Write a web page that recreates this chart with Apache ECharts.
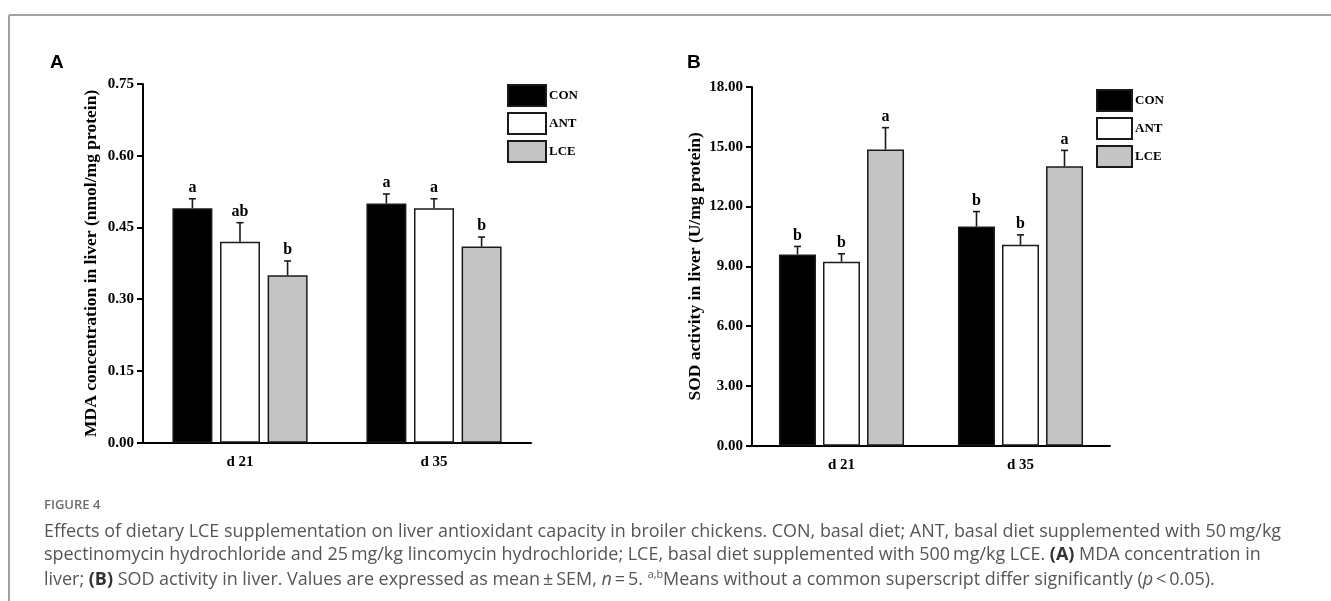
<!DOCTYPE html>
<html><head><meta charset="utf-8">
<script src="https://cdn.jsdelivr.net/npm/echarts@6/dist/echarts.min.js"></script>
<style>html,body{margin:0;padding:0;background:#fff}#c{width:1331px;height:601px}</style>
</head><body><div id="c"></div>
<script>
// ---- data ----
const categories = ['d 21', 'd 35'];
const groups = ['CON', 'ANT', 'LCE'];
const mdaTicks = [0, 0.15, 0.30, 0.45, 0.60, 0.75];
const sodTicks = [0, 3, 6, 9, 12, 15, 18];

const mdaCON = [0.49, 0.50];
const mdaANT = [0.42, 0.49];
const mdaLCE = [0.35, 0.41];
const mdaCONsem = [0.02, 0.02];
const mdaANTsem = [0.04, 0.02];
const mdaLCEsem = [0.03, 0.02];
const mdaCONletters = ['a', 'a'];
const mdaANTletters = ['ab', 'a'];
const mdaLCEletters = ['b', 'b'];

const sodCON = [9.60, 11.00];
const sodANT = [9.23, 10.08];
const sodLCE = [14.86, 14.02];
const sodCONsem = [0.40, 0.75];
const sodANTsem = [0.40, 0.50];
const sodLCEsem = [1.10, 0.80];
const sodCONletters = ['b', 'b'];
const sodANTletters = ['b', 'b'];
const sodLCEletters = ['a', 'a'];

const captionHead = 'FIGURE 4';
const captionLine1 = 'Effects of dietary LCE supplementation on liver antioxidant capacity in broiler chickens. CON, basal diet; ANT, basal diet supplemented with 50\u2009mg/kg';
const captionLine2 = ['spectinomycin hydrochloride and 25\u2009mg/kg lincomycin hydrochloride; LCE, basal diet supplemented with 500\u2009mg/kg LCE. ', '(A)', ' MDA concentration in'];
const captionLine3 = ['liver; ', '(B)', ' SOD activity in liver. Values are expressed as mean\u2009\u00b1\u2009SEM, ', 'n', '\u2009=\u20095. ', 'a,b', 'Means without a common superscript differ significantly (', 'p', '\u2009<\u20090.05).'];

// ---- styles ----
const SERIF = '"Liberation Serif", "DejaVu Serif", serif';
const SANS = '"Open Sans", "Noto Sans", sans-serif';
const fills = {CON: '#000000', ANT: '#ffffff', LCE: '#c4c4c4'};
const edge = '#1a1a1a';
const capColor = '#555555';

const chart = echarts.init(document.getElementById('c'), null, {renderer: 'canvas'});

function errRender(idx, barW, gap, letters) {
  return function (params, api) {
    const cat = api.value(0), mean = api.value(1), sem = api.value(2);
    const p0 = api.coord([cat, mean]);
    const p1 = api.coord([cat, mean + sem]);
    const x = p0[0] + (idx - 1) * (barW + gap);
    const st = {stroke: edge, lineWidth: 1.6};
    return {type: 'group', children: [
      {type: 'line', shape: {x1: x, y1: p0[1], x2: x, y2: p1[1]}, style: st},
      {type: 'line', shape: {x1: x - 3.5, y1: p1[1], x2: x + 3.5, y2: p1[1]}, style: st},
      {type: 'text', x: x, y: p1[1] - 3, style: {text: letters[params.dataIndex], fill: '#000',
        font: 'bold 16px ' + SERIF, align: 'center', verticalAlign: 'bottom'}}
    ]};
  };
}

function barSeries(name, values, xi, barW) {
  return {type: 'bar', name: name, xAxisIndex: xi, yAxisIndex: xi, data: values,
    barWidth: barW, barGap: '19%',
    itemStyle: {color: fills[name], borderColor: edge, borderWidth: 1.5}, z: 2};
}
function errSeries(idx, values, sems, letters, xi, barW, gap) {
  return {type: 'custom', name: 'err' + xi + idx, xAxisIndex: xi, yAxisIndex: xi,
    data: values.map((v, i) => [i, v, sems[i]]),
    renderItem: errRender(idx, barW, gap, letters), z: 3, silent: true};
}

function yAxis(gi, ticks, dec, title, gap) {
  return {type: 'value', gridIndex: gi, min: ticks[0], max: ticks[ticks.length - 1],
    interval: ticks[1] - ticks[0], splitLine: {show: false},
    axisLine: {show: true, lineStyle: {color: '#000', width: 2}},
    axisTick: {show: true, length: 6, lineStyle: {color: '#000', width: 2}},
    axisLabel: {formatter: v => v.toFixed(dec), color: '#000', fontFamily: SERIF, fontWeight: 'bold', fontSize: 15, margin: 9},
    name: title, nameLocation: 'middle', nameGap: gap, nameMoveOverlap: false,
    nameTextStyle: {color: '#000', fontFamily: SERIF, fontWeight: 'bold', fontSize: 17.5}};
}
function xAxis(gi) {
  return {type: 'category', gridIndex: gi, data: categories,
    axisLine: {lineStyle: {color: '#000', width: 2}},
    axisTick: {alignWithLabel: true, length: 6, lineStyle: {color: '#000', width: 2}},
    axisLabel: {color: '#000', fontFamily: SERIF, fontWeight: 'bold', fontSize: 15, margin: 12}};
}
function legend(left, top, w) {
  return {data: groups, orient: 'vertical', left: left, top: top, itemWidth: w, itemHeight: 21, itemGap: 5,
    icon: 'rect', selectedMode: false, padding: 0,
    textStyle: {color: '#000', fontFamily: SERIF, fontWeight: 'bold', fontSize: 13, padding: [0, 0, 0, -2]}};
}

const wA = 40, gA = 7.6, wB = 37, gB = 7;

// caption font fit
const ctx = document.createElement('canvas').getContext('2d');
ctx.font = '16px ' + SANS;
const w1 = ctx.measureText(captionLine1).width;
const capSize = 16 * 1238 / w1;

function rich() {
  return {
    b: {fontFamily: SANS, fontSize: capSize, fontWeight: 'bold', fill: '#333333'},
    i: {fontFamily: SANS, fontSize: capSize, fontStyle: 'italic', fill: capColor},
    n: {fontFamily: SANS, fontSize: capSize, fill: capColor},
    s: {fontFamily: SANS, fontSize: capSize * 0.6, fill: capColor, padding: [0, 0, capSize * 0.55, 0]}
  };
}
const line2Rich = '{n|' + captionLine2[0] + '}{b|' + captionLine2[1] + '}{n|' + captionLine2[2] + '}';
const l3 = captionLine3;
const line3Rich = '{n|' + l3[0] + '}{b|' + l3[1] + '}{n|' + l3[2] + '}{i|' + l3[3] + '}{n|' + l3[4] + '}{s|' + l3[5] + '}{n|' + l3[6] + '}{i|' + l3[7] + '}{n|' + l3[8] + '}';

const option = {
  animation: false,
  backgroundColor: '#fff',
  grid: [
    {left: 143, top: 84, width: 388, height: 358.7},
    {left: 752, top: 87, width: 358, height: 358.7}
  ],
  xAxis: [xAxis(0), xAxis(1)],
  yAxis: [
    yAxis(0, mdaTicks, 2, 'MDA concentration in liver (nmol/mg protein)', 43),
    yAxis(1, sodTicks, 2, 'SOD activity in liver (U/mg protein)', 48)
  ],
  legend: [legend(507, 84, 38), legend(1096, 89, 35)],
  series: [
    barSeries('CON', mdaCON, 0, wA), barSeries('ANT', mdaANT, 0, wA), barSeries('LCE', mdaLCE, 0, wA),
    errSeries(0, mdaCON, mdaCONsem, mdaCONletters, 0, wA, gA),
    errSeries(1, mdaANT, mdaANTsem, mdaANTletters, 0, wA, gA),
    errSeries(2, mdaLCE, mdaLCEsem, mdaLCEletters, 0, wA, gA),
    barSeries('CON', sodCON, 1, wB), barSeries('ANT', sodANT, 1, wB), barSeries('LCE', sodLCE, 1, wB),
    errSeries(0, sodCON, sodCONsem, sodCONletters, 1, wB, gB),
    errSeries(1, sodANT, sodANTsem, sodANTletters, 1, wB, gB),
    errSeries(2, sodLCE, sodLCEsem, sodLCEletters, 1, wB, gB)
  ],
  graphic: [
    {type: 'line', shape: {x1: 9, y1: 15, x2: 1331, y2: 15}, style: {stroke: '#a3a3a3', lineWidth: 2}},
    {type: 'line', shape: {x1: 9, y1: 15, x2: 9, y2: 601}, style: {stroke: '#a3a3a3', lineWidth: 2}},
    {type: 'text', left: 50, top: 53, style: {text: 'A', font: 'bold 19px "Liberation Sans", Arial, sans-serif', fill: '#000'}},
    {type: 'text', left: 687, top: 53, style: {text: 'B', font: 'bold 19px "Liberation Sans", Arial, sans-serif', fill: '#000'}},
    {type: 'text', left: 44, top: 499, style: {text: captionHead, font: '600 13px ' + SANS, fill: '#6e6e6e'}},
    {type: 'text', left: 44, top: 523, style: {text: captionLine1, fontFamily: SANS, fontSize: capSize, fill: capColor}},
    {type: 'text', left: 44, top: 546, style: {text: line2Rich, rich: rich()}},
    {type: 'text', left: 44, top: 569, style: {text: line3Rich, rich: rich()}}
  ]
};
chart.setOption(option);
</script>
</body></html>
